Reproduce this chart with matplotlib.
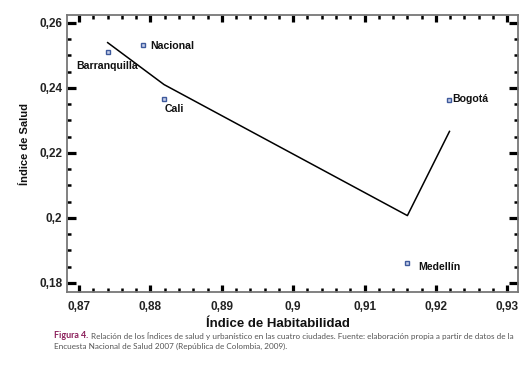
import matplotlib
matplotlib.use("Agg")
import matplotlib.pyplot as plt
from matplotlib.ticker import MultipleLocator, FuncFormatter

# Data
cities = ["Barranquilla", "Nacional", "Cali", "Bogotá", "Medellín"]
habitabilidad = [0.874, 0.8789, 0.8819, 0.9219, 0.9160]
salud = [0.2511, 0.2532, 0.2365, 0.2363, 0.1862]

fit_x = [0.874, 0.8819, 0.9160, 0.9219]
fit_y = [0.2539, 0.2410, 0.2007, 0.2266]

# label offsets in pixels (dx, dy)
label_offsets = [(-31, -14), (8, -1), (1, -10), (3, 1), (11, -4)]

W, H = 525, 372
fig = plt.figure(figsize=(W / 100, H / 100), dpi=100)
L, R, T, B = 67, 518, 15, 292
ax = fig.add_axes([L / W, 1 - B / H, (R - L) / W, (B - T) / H])

ax.plot(fit_x, fit_y, color="black", lw=1.1, zorder=2)
ax.plot(habitabilidad, salud, linestyle="none", marker="s", markersize=3.2,
        markerfacecolor="#c8d0ea", markeredgecolor="#3e5a9c", markeredgewidth=1.0, zorder=3)

for name, x, y, (dx, dy) in zip(cities, habitabilidad, salud, label_offsets):
    ax.annotate(name, (x, y), xytext=(dx, dy), textcoords="offset pixels",
                ha="left", va="center", fontsize=7.6, fontweight="bold",
                family="Liberation Sans", color="#111111")

ax.set_xlim(0.8683, 0.9315)
ax.set_ylim(0.1772, 0.2624)

ax.xaxis.set_major_locator(MultipleLocator(0.01))
ax.xaxis.set_minor_locator(MultipleLocator(0.002))
ax.yaxis.set_major_locator(MultipleLocator(0.02))
ax.yaxis.set_minor_locator(MultipleLocator(0.005))

def fmt(v, pos):
    s = ("%.2f" % v).rstrip("0").rstrip(".")
    return s.replace(".", ",")

ax.xaxis.set_major_formatter(FuncFormatter(fmt))
ax.yaxis.set_major_formatter(FuncFormatter(fmt))

for sp in ax.spines.values():
    sp.set_color("#777777")
    sp.set_linewidth(1.3)

ax.tick_params(axis="both", which="both", direction="in", top=True, right=True, color="black")
ax.tick_params(axis="y", which="major", length=6.5, width=2.3, pad=3.5)
ax.tick_params(axis="y", which="minor", length=3.2, width=1.8)
ax.tick_params(axis="x", which="major", length=4.8, width=2.3, pad=6.5)
ax.tick_params(axis="x", which="minor", length=2.8, width=1.8)

for lab in ax.get_xticklabels() + ax.get_yticklabels():
    lab.set_fontfamily("Liberation Sans")
    lab.set_fontweight("bold")
    lab.set_fontsize(8.5)
    lab.set_color("#222222")

fig.text(278 / W, 1 - 324 / H, "Índice de Habitabilidad", ha="center", va="center",
         fontsize=9.5, fontweight="bold", family="Liberation Sans", color="#111111")
fig.text(25 / W, 1 - 144 / H, "Índice de Salud", ha="center", va="center", rotation=90,
         fontsize=8, fontweight="bold", family="Liberation Sans", color="#111111")

cap_font = "Lato"
t1 = fig.text(54 / W, 1 - 336 / H, "Figura 4.", ha="left", va="center", fontsize=6.4,
              family=cap_font, fontweight="bold", color="#8b1f5a")
ax.annotate("Relación de los Índices de salud y urbanístico en las cuatro ciudades. Fuente: elaboración propia a partir de datos de la",
            xy=(1, 0.5), xycoords=t1, xytext=(3, 0), textcoords="offset pixels",
            ha="left", va="center", fontsize=5.85, family=cap_font, color="#555555",
            annotation_clip=False)
fig.text(54 / W, 1 - 346 / H, "Encuesta Nacional de Salud 2007 (República de Colombia, 2009).",
         ha="left", va="center", fontsize=5.85, family=cap_font, color="#555555")

fig.savefig("out.png", dpi=100)
